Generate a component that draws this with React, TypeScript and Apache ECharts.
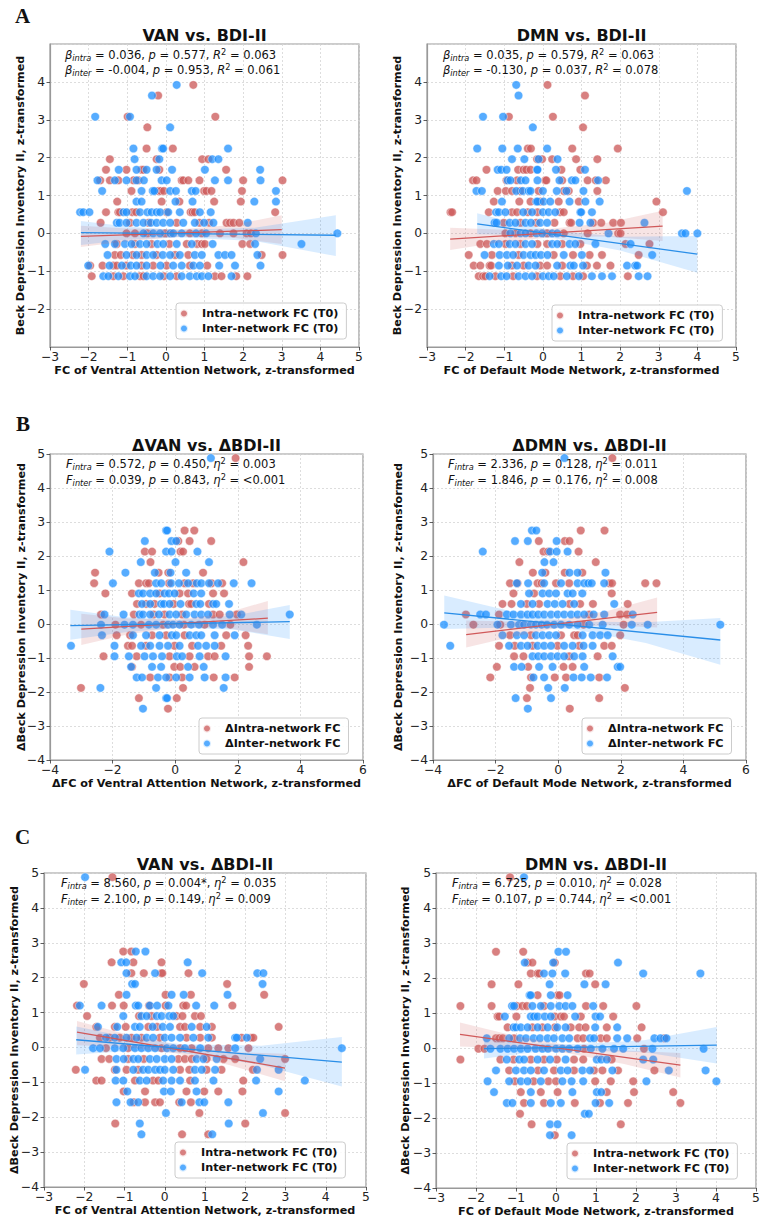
import React, { useEffect, useRef } from "react";
import * as echarts from "echarts";

type Row = [number, number[]];
type Band = [number, number, number][];
type Fit = [number, number][];

// ---------- A: baseline FC vs BDI-II (z) ----------
const vanBdiIntra: Row[] = [
  [3.92, [0.71]],
  [3.64, [-0.2]],
  [3.08, [-0.99, 1.28]],
  [2.8, [-0.48]],
  [2.24, [-0.5, 0.18]],
  [1.96, [-1.45, -0.24, 0.94, 1.1]],
  [1.68, [-1.55, -1.02, -0.63, -0.58, -0.17, 1.56]],
  [1.4, [-1.7, -1.45, -1.23, -0.84, -0.71, 0.41, 0.45, 0.58, 0.87, 2.0, 3.02]],
  [1.12, [-0.89, -0.19, -0.13, -0.05, 0.99, 1.05, 1.18, 1.97]],
  [0.84, [-1.26, -0.11, 0.35, 1.25, 1.94]],
  [0.56, [-1.55, -1.23, -1.19, -0.87, -0.77, 0.02, 0.64, 0.69, 0.75, 2.83]],
  [0.28, [-1.69, -0.93, -0.45, 0.28, 0.87, 1.12, 1.57, 1.66, 1.75, 1.9]],
  [0, [-1.02, -0.8, -0.48, -0.02, 0.62, 0.93, 1.4, 1.75, 2.09, 2.2]],
  [-0.28, [-1.27, -0.8, -0.37, 0.09, 0.54, 0.81, 0.93, 1.01, 1.98, 2.18]],
  [-0.57, [-1.32, -1.17, -0.86, -0.63, -0.24, 0.24, 0.58, 2.48, 3.02]],
  [-0.85, [-1.96, -1.64, -1.36, -1.27, -1.03, -0.63, -0.33, 0.02, 0.62, 1.07]],
  [-1.13, [-1.92, -1.36, -1.1, -0.67, -0.58, -0.05, 0.28, 1.27, 1.44, 1.82, 2.11]],
];
const vanBdiInter: Row[] = [
  [3.92, [0.28]],
  [3.64, [-0.36]],
  [3.08, [-1.83, -0.93]],
  [2.8, [0.11]],
  [2.24, [-0.84, -0.1, -0.07, 1.61]],
  [1.96, [-0.81, -0.17, 1.2, 1.36]],
  [1.68, [-1.22, -0.76, -0.5, -0.24, 0.16, 1.01, 2.44]],
  [1.4, [-1.77, -1.32, -1.02, -0.76, -0.57, -0.11, 0.02, 1.27, 1.61, 2.45]],
  [1.12, [-1.65, -0.63, -0.34, -0.3, 0.11, 0.26, 0.67, 0.77, 2.85]],
  [0.84, [-0.76, -0.63, 0.25, 0.69, 2.29, 2.85]],
  [0.56, [-2.22, -2.14, -1.98, -1.1, -1.02, -0.67, -0.48, -0.37, -0.24, -0.15, 0.06, 0.36, 0.88, 1.16]],
  [0.28, [-1.27, -1.2, -1.02, -0.76, -0.58, -0.39, -0.24, -0.07, 0.11, 0.45, 0.75, 0.99, 1.23, 2.12]],
  [0, [-0.58, -0.33, -0.15, 0.12, 0.19, 0.41, 0.78, 1.04, 2.33, 4.44]],
  [-0.28, [-1.57, -1.32, -1.06, -0.89, -0.67, -0.5, -0.22, -0.07, 0.28, 0.67, 1.21, 2.31, 3.51]],
  [-0.57, [-1.51, -1.02, -0.76, -0.5, -0.33, -0.08, 0.11, 0.36, 0.75, 0.93, 1.36, 1.53, 1.7, 2.37]],
  [-0.85, [-2.01, -1.46, -1.14, -0.91, -0.76, -0.5, -0.14, 0.19, 0.41, 0.71, 0.88, 1.38, 1.79, 2.45]],
  [-1.13, [-1.62, -1.49, -1.23, -0.93, -0.8, -0.5, -0.33, -0.15, 0.11, 0.41, 0.62, 0.8, 0.93, 1.1, 1.7]],
];
const vanBdiIntraFit: Fit = [[-2.2, -0.08], [3.0, 0.1]];
const vanBdiInterFit: Fit = [[-2.2, 0.02], [4.4, -0.05]];
const vanBdiIntraBand: Band = [[-2.2, -0.36, 0.2], [-1.0, -0.21, 0.13], [0.4, -0.09, 0.11], [1.7, -0.11, 0.22], [3.0, -0.28, 0.48]];
const vanBdiInterBand: Band = [[-2.2, -0.31, 0.33], [-1.0, -0.17, 0.18], [0.3, -0.1, 0.09], [2.3, -0.2, 0.15], [4.4, -0.6, 0.48]];

const dmnBdiIntra: Row[] = [
  [3.92, [0.12]],
  [3.64, [1.09]],
  [3.08, [-0.88, 0.26]],
  [2.8, [1.04]],
  [2.24, [-0.39, -0.31, 0.76, 1.94]],
  [1.96, [-0.15, -0.02, 0.24, 0.86, 1.41]],
  [1.68, [-1.46, -0.64, -0.5, -0.43, -0.32, 0.48, 0.97]],
  [1.4, [-1.81, -1.72, -0.94, -0.67, 0.06, 0.09, 0.5, 1.16, 1.37, 1.63]],
  [1.12, [-1.17, -0.96, -0.8, -0.58, -0.11, 0.54, 0.67, 1.41]],
  [0.84, [-1.27, -0.61, -0.32, -0.07, 0.41, 0.93, 2.94]],
  [0.56, [-2.39, -2.35, -1.4, -0.8, -0.67, -0.39, -0.14, 0.45, 0.54, 3.11]],
  [0.28, [-1.01, -0.58, -0.17, 0.3, 0.69, 0.73, 1.3, 1.51, 1.82, 2.02]],
  [0, [-0.97, -0.71, -0.32, 0.11, 0.54, 1.16, 1.95, 2.01]],
  [-0.28, [-1.62, -1.45, -0.97, -0.58, -0.14, 0.11, 0.5, 0.97, 2.14, 2.76]],
  [-0.57, [-1.92, -1.32, -0.63, 0.28, 0.78, 1.21, 1.53, 2.48]],
  [-0.85, [-1.79, -1.62, -1.38, -1.34, -0.8, -0.5, -0.07, 0.11, 0.5, 1.14, 1.4, 1.75]],
  [-1.13, [-1.66, -1.55, -1.49, -1.23, -0.77, -0.15, 0.45, 0.78, 1.04, 2.2]],
];
const dmnBdiInter: Row[] = [
  [3.92, [-0.69]],
  [3.64, [-0.63]],
  [3.08, [-1.55, -1.03]],
  [2.8, [-0.26]],
  [2.24, [-1.7, -1.05, -0.65, 0.11]],
  [1.96, [-0.8, -0.48, -0.11, 0.38]],
  [1.68, [-1.17, -1.08, -0.94, -0.15, -0.14, 0.34, 1.09]],
  [1.4, [-0.91, -0.84, -0.57, -0.45, -0.14, 0.43, 0.75, 0.84, 1.43]],
  [1.12, [-1.72, -1.58, -0.69, -0.52, -0.37, -0.32, 0.0, 0.36, 0.61, 1.05, 3.73]],
  [0.84, [-1.06, -0.17, -0.14, 0.02, 0.19, 0.69, 1.1, 1.47]],
  [0.56, [-1.21, -1.14, -0.97, -0.51, -0.28, 0.0, 0.15, 0.32, 0.97, 0.99, 1.27]],
  [0.28, [-1.25, -1.2, -0.86, -0.71, -0.45, -0.31, -0.07, 0.11, 0.95, 1.23, 2.63]],
  [0, [-0.84, -0.58, -0.45, -0.17, -0.02, 0.24, 0.37, 1.7, 3.6, 3.69, 4.0]],
  [-0.28, [-1.27, -1.14, -0.86, -0.71, -0.45, -0.28, 0.24, 0.37, 0.69, 0.84, 1.36, 2.27]],
  [-0.57, [-1.51, -1.12, -0.93, -0.77, -0.5, -0.32, -0.19, -0.05, 0.12, 0.54, 1.01, 2.83]],
  [-0.85, [-1.14, -0.91, -0.67, -0.37, -0.19, 0.37, 0.71, 0.8, 1.04, 2.18, 2.39, 2.44]],
  [-1.13, [-1.38, -1.08, -0.94, -0.63, -0.45, -0.28, 0.0, 0.15, 0.28, 0.62, 0.93, 1.27, 1.53, 1.79, 2.48, 2.71]],
];
const dmnBdiIntraFit: Fit = [[-2.4, -0.15], [3.1, 0.19]];
const dmnBdiInterFit: Fit = [[-1.7, 0.25], [4.0, -0.55]];
const dmnBdiIntraBand: Band = [[-2.4, -0.44, 0.15], [-1.2, -0.25, 0.1], [0.2, -0.1, 0.12], [1.6, -0.08, 0.27], [3.1, -0.2, 0.6]];
const dmnBdiInterBand: Band = [[-1.7, -0.02, 0.53], [-0.7, -0.04, 0.27], [0.3, -0.13, 0.07], [2.0, -0.45, -0.09], [4.0, -1.04, -0.07]];

// ---------- B: change in FC vs change in BDI-II ----------
const dVanDBdiIntra: Row[] = [
  [4.88, [1.93]],
  [2.75, [0.3, 0.61]],
  [2.44, [0.1, 0.46, 1.15]],
  [2.13, [-0.97, -0.74, 0.17, 0.25]],
  [1.82, [-0.79, 2.18]],
  [1.51, [-2.56, -0.53, -0.22, 0.89]],
  [1.2, [-2.59, -1.16, -0.93, -0.84, -0.2, 0.3, 0.57, 1.16, 1.5]],
  [0.9, [-2.23, -1.38, -0.5, 0.14, 0.41, 1.21, 1.56]],
  [0.59, [-1.22, -0.93, -0.66, -0.05, 0.44, 0.51, 1.08]],
  [0.28, [-2.37, -1.32, -0.69, -0.34, 0.22, 1.21, 1.42, 1.97]],
  [-0.02, [-1.91, -1.09, -0.39, 0.28, 0.94, 1.76]],
  [-0.33, [-1.87, -1.44, -0.74, -0.29, 0.3, 1.63, 2.25]],
  [-0.64, [-1.51, -1.38, -0.93, -0.02, 0.54, 1.47, 2.33]],
  [-0.95, [-2.29, -1.23, -0.18, 0.46, 1.05, 1.26, 2.36, 2.93]],
  [-1.26, [-1.38, -0.03, 0.16, 0.62, 2.36]],
  [-1.57, [-0.8, -0.18, 0.22, 1.23, 1.9]],
  [-1.88, [-3.01, 0.25]],
  [-2.18, [-1.16, 0.05]],
  [-2.49, [-0.23]],
];
const dVanDBdiInter: Row[] = [
  [4.88, [1.14]],
  [2.75, [-0.29, -0.26]],
  [2.44, [-0.97, -0.12, 0.03]],
  [2.13, [-2.1, -0.29, -0.12, 0.71]],
  [1.82, [-1.1, 0.01, 1.08]],
  [1.51, [-1.59, -0.65, -0.15, 0.35]],
  [1.2, [-1.99, -0.61, -0.45, -0.13, 0.12, 0.41, 0.69, 0.83, 1.08, 1.37, 1.87, 2.44]],
  [0.9, [-1.16, -1.03, -0.8, -0.61, -0.34, -0.2, -0.02, 0.59, 0.83]],
  [0.59, [-1.06, -0.8, -0.45, -0.36, -0.18, 0.17, 0.67, 0.8, 1.21, 1.31, 1.72]],
  [0.28, [-2.26, -1.65, -1.14, -1.03, -0.8, -0.52, -0.18, 0.03, 0.35, 0.62, 0.83, 1.05, 1.74, 2.11, 3.66]],
  [-0.02, [-2.37, -1.62, -1.35, -0.84, -0.61, -0.23, -0.07, 0.14, 0.51, 0.76, 1.21, 1.5, 2.61]],
  [-0.33, [-2.34, -1.35, -0.93, -0.5, -0.11, 0.03, 0.46, 0.67, 0.83, 1.26, 1.9]],
  [-0.64, [-3.33, -1.94, -1.09, -0.8, -0.5, -0.23, 0.14, 0.73, 0.99, 1.26]],
  [-0.95, [-1.94, -1.48, -0.98, -0.71, -0.42, 0.05, 0.22, 0.78, 1.61]],
  [-1.26, [-1.41, -0.74, -0.45, 0.41, 0.91]],
  [-1.57, [-1.23, -1.06, -0.55, -0.29, 0.03, 0.46, 0.94, 1.61]],
  [-1.88, [-2.39, -0.61, 1.55]],
  [-2.18, [-0.29, -0.26]],
  [-2.49, [-1.03]],
];
const dVanDBdiIntraFit: Fit = [[-3.0, -0.15], [2.96, 0.17]];
const dVanDBdiInterFit: Fit = [[-3.35, -0.05], [3.66, 0.07]];
const dVanDBdiIntraBand: Band = [[-3.0, -0.62, 0.3], [-1.5, -0.3, 0.16], [0.0, -0.11, 0.13], [1.5, -0.1, 0.29], [2.96, -0.3, 0.68]];
const dVanDBdiInterBand: Band = [[-3.35, -0.46, 0.42], [-1.6, -0.24, 0.2], [0.1, -0.1, 0.12], [1.9, -0.17, 0.25], [3.66, -0.44, 0.56]];

const dDmnDBdiIntra: Row[] = [
  [4.88, [1.73]],
  [2.75, [0.72, 1.48]],
  [2.44, [-0.62, 0.21, 0.36]],
  [2.13, [-0.47, -0.32, 0.65]],
  [1.82, [-1.24, 1.2]],
  [1.51, [-0.81, -0.41, 0.21, 0.77]],
  [1.2, [-1.54, -1.3, -0.66, -0.53, -0.07, 0.35, 1.64, 1.72, 2.78, 3.14]],
  [0.9, [-1.43, -0.77, 1.71]],
  [0.59, [-1.78, -1.49, -1.0, -0.61, 0.36, 0.7, 1.11, 2.22]],
  [0.28, [-2.95, -1.89, 0.99, 1.98, 2.2]],
  [-0.02, [-2.71, -1.85, 0.81, 2.09]],
  [-0.33, [-1.54, -0.87, 0.09, 0.51, 0.62, 1.98]],
  [-0.64, [-1.89, -1.39, -0.82, -0.02, 0.67, 1.47, 1.71]],
  [-0.95, [-1.41, -1.11, 0.35, 1.26]],
  [-1.26, [-1.96, -0.96, 0.17, 0.46]],
  [-1.57, [-2.17, -0.87, -0.11, 0.25, 1.31]],
  [-1.88, [-0.9, 2.13]],
  [-2.18, [-1.0, 1.31]],
  [-2.49, [0.37]],
];
const dDmnDBdiInter: Row[] = [
  [4.88, [0.2]],
  [2.75, [-0.84, -0.7]],
  [2.44, [-1.38, -0.97, -0.05]],
  [2.13, [-2.41, -0.26, -0.05, 0.3]],
  [1.82, [-0.44, -0.15]],
  [1.51, [-0.51, 0.36, 0.62, 1.51]],
  [1.2, [-1.32, -0.96, -0.45, 0.09, 0.62, 0.83, 0.96, 1.07, 1.47]],
  [0.9, [-0.93, -0.5, -0.29, -0.07, 0.3, 0.46, 0.77]],
  [0.59, [-1.19, -0.82, -0.34, -0.11, 0.14, 0.51, 1.79]],
  [0.28, [-2.49, -2.31, -1.64, -1.43, -1.19, -0.98, -0.82, -0.64, -0.45, -0.23, -0.02, 0.19, 0.41, 0.62, 0.83, 1.13, 1.47, 2.38]],
  [-0.02, [-3.65, -1.94, -1.51, -1.25, -1.09, -0.87, -0.71, -0.53, -0.36, -0.13, 0.09, 0.35, 0.62, 0.99, 1.42, 2.35, 2.86, 5.18]],
  [-0.33, [-1.78, -1.32, -1.09, -0.71, -0.5, -0.29, -0.07, 0.78, 1.1, 1.34, 1.58]],
  [-0.64, [-3.45, -1.57, -1.19, -0.98, -0.66, -0.45, -0.23, 0.19, 0.46, 0.81, 1.1]],
  [-0.95, [-0.82, -0.64, -0.45, -0.23, -0.02, 0.19, 0.51, 0.78, 1.74]],
  [-1.26, [-1.41, -1.17, -0.61, -0.18, 0.83, 1.9, 1.98]],
  [-1.57, [-0.79, -0.45, 0.49, 0.75, 1.04, 1.56]],
  [-1.88, [-0.32, 0.21]],
  [-2.18, [-1.36, -0.23]],
  [-2.49, [-0.97]],
];
const dDmnDBdiIntraFit: Fit = [[-2.94, -0.31], [3.16, 0.34]];
const dDmnDBdiInterFit: Fit = [[-3.64, 0.33], [5.18, -0.47]];
const dDmnDBdiIntraBand: Band = [[-2.94, -0.69, 0.1], [-1.5, -0.38, 0.07], [0.0, -0.11, 0.12], [1.6, -0.04, 0.39], [3.16, -0.1, 0.78]];
const dDmnDBdiInterBand: Band = [[-3.64, -0.15, 0.84], [-1.5, -0.1, 0.37], [0.4, -0.14, 0.07], [2.8, -0.56, 0.05], [5.18, -1.2, 0.18]];

// ---------- C: baseline FC vs change in BDI-II ----------
const vanDBdiIntra: Row[] = [
  [4.88, [-1.3]],
  [2.75, [-1.03, -0.83]],
  [2.44, [-1.32, -0.78, -0.08]],
  [2.13, [-0.83, -0.52, -0.09, -0.06, 0.59]],
  [1.82, [-2.01, 1.55]],
  [1.51, [-1.14, 0.02, 0.65, 2.47]],
  [1.2, [-2.18, -1.31, -1.02, -0.39, 0.02, 0.46, 0.53, 1.68]],
  [0.9, [-1.93, -0.64, -0.33, 0.29, 0.44, 0.75, 0.9]],
  [0.59, [-1.7, -1.24, -0.97, -0.41, -0.19, 0.38, 0.5, 0.88, 1.17, 2.83]],
  [0.28, [-1.61, -1.37, -1.12, -0.83, -0.58, -0.12, 0.54, 0.88, 1.17, 1.91, 2.14, 2.2]],
  [-0.02, [-1.46, -0.91, -0.08, 0.38, 0.67, 1.08, 1.33, 1.58, 2.08]],
  [-0.33, [-1.57, -1.38, -0.91, -0.52, 0.34, 0.5, 0.67, 1.04, 1.46, 1.75, 2.99]],
  [-0.64, [-2.21, -1.24, -0.95, -0.66, 0.38, 0.61, 1.04, 1.41, 2.19]],
  [-0.95, [-1.7, -1.57, -0.74, -0.29, -0.16, 0.63, 1.95]],
  [-1.26, [-1.02, -0.49, 0.54, 0.98, 1.33, 1.93]],
  [-1.57, [-0.77, -0.49, -0.24, -0.12, 0.36, 0.65]],
  [-1.88, [0.86, 2.99]],
  [-2.18, [-1.23, 2.0]],
  [-2.49, [0.43, 1.08]],
];
const vanDBdiInter: Row[] = [
  [4.88, [-1.98]],
  [2.75, [-0.72, -0.48]],
  [2.44, [-1.08, -0.96, 0.57]],
  [2.13, [-0.95, -0.24, 0.93, 2.3, 2.45]],
  [1.82, [-0.81, -0.74, 2.43]],
  [1.51, [-0.95, 0.17, 0.47, 1.56]],
  [1.2, [-2.11, -1.57, -0.72, -0.66, -0.37, -0.19, 0.09, 0.78, 1.23]],
  [0.9, [-1.03, -0.58, -0.45, -0.2, -0.08, 0.11, 0.21]],
  [0.59, [-1.66, -1.18, -0.74, -0.62, -0.3, -0.05, 0.13, 0.67, 1.04]],
  [0.28, [-1.46, -1.24, -0.95, -0.7, -0.45, -0.29, 0.0, 0.17, 0.38, 0.71, 1.08, 1.75, 1.79, 2.04]],
  [-0.02, [-1.78, -1.61, -1.24, -1.03, -0.74, -0.58, -0.41, -0.24, 0.05, 0.21, 0.5, 0.88, 1.75, 4.4]],
  [-0.33, [-1.2, -1.02, -0.78, -0.66, -0.37, -0.2, 0.0, 0.17, 0.79, 0.96, 1.29, 2.37]],
  [-0.64, [-1.98, -1.2, -0.78, -0.54, -0.41, -0.24, -0.12, 0.0, 0.21, 0.75, 0.92, 1.25, 2.29, 2.83]],
  [-0.95, [-1.22, -1.03, -0.62, -0.45, -0.04, 0.17, 0.38, 0.75, 1.21, 2.27, 3.48]],
  [-1.26, [-0.93, -0.02, 0.15, 0.79, 2.83]],
  [-1.57, [-1.2, -0.85, -0.66, 0.42, 0.86, 0.98, 1.58]],
  [-1.88, [0.03, 2.44]],
  [-2.18, [-0.62, 1.59]],
  [-2.49, [-0.58, 1.18]],
];
const vanDBdiIntraFit: Fit = [[-2.18, 0.44], [2.99, -0.59]];
const vanDBdiInterFit: Fit = [[-2.2, 0.22], [4.4, -0.42]];
const vanDBdiIntraBand: Band = [[-2.18, 0.06, 0.76], [-1.0, 0.02, 0.39], [0.3, -0.17, 0.07], [1.6, -0.5, -0.13], [2.99, -0.97, -0.18]];
const vanDBdiInterBand: Band = [[-2.2, -0.2, 0.6], [-0.9, -0.1, 0.29], [0.4, -0.15, 0.09], [2.4, -0.5, 0.05], [4.4, -1.12, 0.3]];

const dmnDBdiIntra: Row[] = [
  [4.88, [-1.15]],
  [2.75, [-1.5, -0.82]],
  [2.44, [-0.71, -0.59, -0.03]],
  [2.13, [-0.63, -0.46, -0.42, 0.75, 0.84]],
  [1.82, [-1.61, -0.94, 0.98]],
  [1.51, [-0.46, 0.04, 0.09]],
  [1.2, [-2.39, -1.61, -0.98, -0.84, -0.73, -0.3, 0.75, 1.18, 2.01]],
  [0.9, [-1.46, -1.42, -0.99, -0.03, 0.12, 0.2, 0.62, 1.43]],
  [0.59, [-1.21, -0.59, -0.34, -0.03, 0.37, 0.58, 0.74, 1.27, 2.14]],
  [0.28, [-1.5, -1.42, -1.33, -1.05, 0.54, 0.68, 1.12, 1.27, 2.03, 2.71]],
  [-0.02, [-1.94, -1.79, 0.7, 2.2]],
  [-0.33, [-2.39, -1.39, -1.06, -0.63, -0.3, 0.02, 0.45, 0.68, 1.39]],
  [-0.64, [-1.17, -0.45, -0.05, 0.45, 0.95, 1.16, 1.55, 2.46]],
  [-0.95, [-1.03, -0.56, -0.19, 0.0, 0.98, 1.37, 1.93]],
  [-1.26, [-0.88, -0.38, 0.04, 1.27, 1.95, 2.93]],
  [-1.57, [-0.8, -0.3, 0.47, 1.1, 1.8, 3.11]],
  [-1.88, [-0.9]],
  [-2.18, [-0.61, 1.62]],
  [-2.49, [-0.03]],
];
const dmnDBdiInter: Row[] = [
  [4.88, [-0.8]],
  [2.75, [0.06, 0.25]],
  [2.44, [-0.78, -0.07, 1.55]],
  [2.13, [-0.3, -0.09, 0.23, 2.18, 3.61]],
  [1.82, [-0.16, 0.71, 1.24]],
  [1.51, [-0.66, -0.63, -0.13, 0.29]],
  [1.2, [-1.1, -1.05, -0.59, -0.38, -0.13, 0.08, 0.24, 0.41, 0.93]],
  [0.9, [-1.28, -0.63, -0.55, -0.46, -0.28, -0.13, 0.48, 0.99, 1.1]],
  [0.59, [-1.06, -1.0, -0.88, -0.71, -0.46, -0.21, 0.03, 0.24, 0.98, 1.53]],
  [0.28, [-1.73, -1.17, -0.9, -0.75, -0.56, -0.4, -0.21, -0.05, 0.16, 0.33, 0.85, 0.95, 1.53, 1.78, 2.46, 2.61, 2.76]],
  [-0.02, [-1.64, -1.39, -1.21, -1.05, -0.88, -0.71, -0.51, -0.34, -0.2, 0.0, 0.16, 0.33, 0.54, 0.87, 1.16, 1.45, 1.68, 2.41, 3.69]],
  [-0.33, [-1.23, -0.92, -0.8, -0.46, -0.15, 0.24, 1.02, 1.13, 1.27, 2.18, 2.43]],
  [-0.64, [-1.5, -1.0, -0.8, -0.63, -0.3, 0.12, 0.29, 0.66, 0.85, 1.41, 2.82, 3.74]],
  [-0.95, [-1.71, -1.17, -0.88, -0.71, -0.38, 0.16, 0.39, 0.68, 2.26, 4.01]],
  [-1.26, [-1.55, -0.63, 0.41, 1.02, 1.13]],
  [-1.57, [-1.23, -1.09, -0.63, -0.13, 0.12, 0.99, 1.33]],
  [-1.88, [0.72, 0.82]],
  [-2.18, [-0.15, 0.04]],
  [-2.49, [-0.15, 0.39]],
];
const dmnDBdiIntraFit: Fit = [[-2.4, 0.39], [3.11, -0.49]];
const dmnDBdiInterFit: Fit = [[-1.8, -0.02], [4.02, 0.08]];
const dmnDBdiIntraBand: Band = [[-2.4, 0.04, 0.73], [-1.0, -0.01, 0.34], [0.3, -0.15, 0.07], [1.7, -0.46, -0.07], [3.11, -0.84, -0.14]];
const dmnDBdiInterBand: Band = [[-1.8, -0.3, 0.27], [-0.6, -0.13, 0.13], [0.5, -0.07, 0.11], [2.2, -0.12, 0.22], [4.02, -0.44, 0.6]];

// ---------- text ----------
const legendT0 = ["Intra-network FC (T0)", "Inter-network FC (T0)"];
const legendDelta = ["\u0394Intra-network FC", "\u0394Inter-network FC"];
const yNameBdi = "Beck Depression Inventory II, z-transformed";
const yNameDBdi = "\u0394Beck Depression Inventory II, z-transformed";

const FONT = "DejaVu Sans";
const RED = "#cd5c5c";
const BLUE = "#1e90ff";

const fmt = (v: number) => (v < 0 ? "\u2212" + Math.abs(v) : String(v));
const toPoints = (rows: Row[]) => rows.flatMap(([y, xs]) => xs.map((x) => [x, y]));

interface Panel {
  grid: { left: number; top: number; width: number; height: number };
  x: [number, number, number];
  y: [number, number, number];
  hideYEnds: boolean;
  title: string;
  xName: string;
  yName: string;
  yNameX: number;
  stats: [string, string];
  statX: number;
  statY: [number, number];
  legend: { left: number; top: number; names: string[] };
  intra: Row[];
  inter: Row[];
  intraFit: Fit;
  interFit: Fit;
  intraBand: Band;
  interBand: Band;
}

const panels: Panel[] = [
  {
    grid: { left: 50, top: 44, width: 309, height: 303 },
    x: [-3, 5, 1], y: [-3, 5, 1], hideYEnds: true,
    title: "VAN vs. BDI-II",
    xName: "FC of Ventral Attention Network, z-transformed",
    yName: yNameBdi, yNameX: 20,
    stats: [
      "{it|\u03b2}{sub|intra} = 0.036, {it|p} = 0.577, {it|R}{sup|2} = 0.063",
      "{it|\u03b2}{sub|inter} = -0.004, {it|p} = 0.953, {it|R}{sup|2} = 0.061",
    ],
    statX: 65, statY: [55, 70],
    legend: { left: 176, top: 303, names: legendT0 },
    intra: vanBdiIntra, inter: vanBdiInter,
    intraFit: vanBdiIntraFit, interFit: vanBdiInterFit,
    intraBand: vanBdiIntraBand, interBand: vanBdiInterBand,
  },
  {
    grid: { left: 427, top: 44, width: 309, height: 303 },
    x: [-3, 5, 1], y: [-3, 5, 1], hideYEnds: true,
    title: "DMN vs. BDI-II",
    xName: "FC of Default Mode Network, z-transformed",
    yName: yNameBdi, yNameX: 397,
    stats: [
      "{it|\u03b2}{sub|intra} = 0.035, {it|p} = 0.579, {it|R}{sup|2} = 0.063",
      "{it|\u03b2}{sub|inter} = -0.130, {it|p} = 0.037, {it|R}{sup|2} = 0.078",
    ],
    statX: 443, statY: [55, 70],
    legend: { left: 552, top: 305, names: legendT0 },
    intra: dmnBdiIntra, inter: dmnBdiInter,
    intraFit: dmnBdiIntraFit, interFit: dmnBdiInterFit,
    intraBand: dmnBdiIntraBand, interBand: dmnBdiInterBand,
  },
  {
    grid: { left: 50, top: 454, width: 313, height: 306 },
    x: [-4, 6, 2], y: [-4, 5, 1], hideYEnds: false,
    title: "\u0394VAN vs. \u0394BDI-II",
    xName: "\u0394FC of Ventral Attention Network, z-transformed",
    yName: yNameDBdi, yNameX: 21,
    stats: [
      "{it|F}{sub|intra} = 0.572, {it|p} = 0.450, {it|\u03b7}{sup|2} = 0.003",
      "{it|F}{sub|inter} = 0.039, {it|p} = 0.843, {it|\u03b7}{sup|2} = <0.001",
    ],
    statX: 66, statY: [464, 480],
    legend: { left: 199, top: 718, names: legendDelta },
    intra: dVanDBdiIntra, inter: dVanDBdiInter,
    intraFit: dVanDBdiIntraFit, interFit: dVanDBdiInterFit,
    intraBand: dVanDBdiIntraBand, interBand: dVanDBdiInterBand,
  },
  {
    grid: { left: 433, top: 454, width: 313, height: 306 },
    x: [-4, 6, 2], y: [-4, 5, 1], hideYEnds: false,
    title: "\u0394DMN vs. \u0394BDI-II",
    xName: "\u0394FC of Default Mode Network, z-transformed",
    yName: yNameDBdi, yNameX: 398,
    stats: [
      "{it|F}{sub|intra} = 2.336, {it|p} = 0.128, {it|\u03b7}{sup|2} = 0.011",
      "{it|F}{sub|inter} = 1.846, {it|p} = 0.176, {it|\u03b7}{sup|2} = 0.008",
    ],
    statX: 448, statY: [464, 480],
    legend: { left: 582, top: 718, names: legendDelta },
    intra: dDmnDBdiIntra, inter: dDmnDBdiInter,
    intraFit: dDmnDBdiIntraFit, interFit: dDmnDBdiInterFit,
    intraBand: dDmnDBdiIntraBand, interBand: dDmnDBdiInterBand,
  },
  {
    grid: { left: 44, top: 873, width: 322, height: 314 },
    x: [-3, 5, 1], y: [-4, 5, 1], hideYEnds: false,
    title: "VAN vs. \u0394BDI-II",
    xName: "FC of Ventral Attention Network, z-transformed",
    yName: yNameDBdi, yNameX: 14,
    stats: [
      "{it|F}{sub|intra} = 8.560, {it|p} = 0.004*, {it|\u03b7}{sup|2} = 0.035",
      "{it|F}{sub|inter} = 2.100, {it|p} = 0.149, {it|\u03b7}{sup|2} = 0.009",
    ],
    statX: 61, statY: [883, 899],
    legend: { left: 175, top: 1142, names: legendT0 },
    intra: vanDBdiIntra, inter: vanDBdiInter,
    intraFit: vanDBdiIntraFit, interFit: vanDBdiInterFit,
    intraBand: vanDBdiIntraBand, interBand: vanDBdiInterBand,
  },
  {
    grid: { left: 436, top: 873, width: 320, height: 315 },
    x: [-3, 5, 1], y: [-4, 5, 1], hideYEnds: false,
    title: "DMN vs. \u0394BDI-II",
    xName: "FC of Default Mode Network, z-transformed",
    yName: yNameDBdi, yNameX: 405,
    stats: [
      "{it|F}{sub|intra} = 6.725, {it|p} = 0.010, {it|\u03b7}{sup|2} = 0.028",
      "{it|F}{sub|inter} = 0.107, {it|p} = 0.744, {it|\u03b7}{sup|2} = <0.001",
    ],
    statX: 452, statY: [883, 899],
    legend: { left: 567, top: 1143, names: legendT0 },
    intra: dmnDBdiIntra, inter: dmnDBdiInter,
    intraFit: dmnDBdiIntraFit, interFit: dmnDBdiInterFit,
    intraBand: dmnDBdiIntraBand, interBand: dmnDBdiInterBand,
  },
];

const panelLetters: [string, number, number][] = [
  ["A", 15, 16],
  ["B", 16, 424],
  ["C", 15, 837],
];

const richStats = {
  it: { fontStyle: "italic", fontSize: 11.5, fontFamily: FONT, color: "#111" },
  sub: { fontStyle: "italic", fontSize: 8.2, fontFamily: FONT, color: "#111", verticalAlign: "bottom", lineHeight: 7 },
  sup: { fontSize: 8.2, fontFamily: FONT, color: "#111", verticalAlign: "top", lineHeight: 9 },
};

function bandSeries(band: Band, color: string, i: number) {
  return {
    type: "custom",
    xAxisIndex: i,
    yAxisIndex: i,
    silent: true,
    z: 4,
    data: [[band[0][0], band[0][1]]],
    renderItem: (params: any, api: any) => {
      if (params.dataIndex !== 0) return null;
      const upper = band.map(([x, , hi]) => api.coord([x, hi]));
      const lower = band
        .slice()
        .reverse()
        .map(([x, lo]) => api.coord([x, lo]));
      return {
        type: "polygon",
        shape: { points: [...upper, ...lower] },
        style: { fill: color, opacity: 0.17 },
      };
    },
  };
}

function lineSeries(fit: Fit, color: string, i: number) {
  return {
    type: "line",
    xAxisIndex: i,
    yAxisIndex: i,
    data: fit,
    symbol: "none",
    silent: true,
    z: 5,
    lineStyle: { color, width: 1.3 },
  };
}

function buildOption() {
  const axisLabel = { fontFamily: FONT, fontSize: 12.3, color: "#222", formatter: fmt };
  const splitLine = { show: true, lineStyle: { color: "#d4d4d4", type: [2, 2], width: 0.8 } };
  const axisLine = { show: true, onZero: false, lineStyle: { color: "#999", width: 1.2 } };
  const axisTick = { show: true, length: 3.5, lineStyle: { color: "#333", width: 0.8 } };

  const series: any[] = [];
  const graphic: any[] = [];

  panels.forEach((p, i) => {
    const g = p.grid;
    series.push({
      type: "scatter",
      name: p.legend.names[0],
      xAxisIndex: i,
      yAxisIndex: i,
      data: toPoints(p.intra),
      symbolSize: 8.5,
      z: 2,
      itemStyle: { color: RED, opacity: 0.78, borderColor: "#fff", borderWidth: 0.6 },
    });
    series.push({
      type: "scatter",
      name: p.legend.names[1],
      xAxisIndex: i,
      yAxisIndex: i,
      data: toPoints(p.inter),
      symbolSize: 8.5,
      z: 3,
      itemStyle: { color: BLUE, opacity: 0.75, borderColor: "#fff", borderWidth: 0.6 },
    });
    series.push(bandSeries(p.intraBand, RED, i));
    series.push(bandSeries(p.interBand, BLUE, i));
    series.push(lineSeries(p.intraFit, "#d0595a", i));
    series.push(lineSeries(p.interFit, "#2a8ee8", i));

    const cx = g.left + g.width / 2;
    const cy = g.top + g.height / 2;
    graphic.push({
      type: "text",
      x: cx,
      y: g.top - 9,
      style: {
        text: p.title,
        fontFamily: FONT,
        fontWeight: "bold",
        fontSize: 16,
        fill: "#111",
        align: "center",
        verticalAlign: "middle",
        textAlign: "center",
        textVerticalAlign: "middle",
      },
    });
    graphic.push({
      type: "text",
      x: cx,
      y: g.top + g.height + 23,
      style: {
        text: p.xName,
        fontFamily: FONT,
        fontWeight: "bold",
        fontSize: 11.2,
        fill: "#111",
        align: "center",
        verticalAlign: "middle",
        textAlign: "center",
        textVerticalAlign: "middle",
      },
    });
    graphic.push({
      type: "text",
      x: p.yNameX,
      y: cy,
      rotation: Math.PI / 2,
      style: {
        text: p.yName,
        fontFamily: FONT,
        fontWeight: "bold",
        fontSize: 11.2,
        fill: "#111",
        align: "center",
        verticalAlign: "middle",
        textAlign: "center",
        textVerticalAlign: "middle",
      },
    });
    p.stats.forEach((s, k) => {
      graphic.push({
        type: "text",
        x: p.statX,
        y: p.statY[k],
        z: 10,
        style: {
          text: s,
          fontFamily: FONT,
          fontSize: 11.5,
          lineHeight: 14,
          fill: "#111",
          align: "left",
          verticalAlign: "middle",
          textAlign: "left",
          textVerticalAlign: "middle",
          rich: richStats,
        },
      });
    });
  });

  panelLetters.forEach(([t, x, y]) => {
    graphic.push({
      type: "text",
      x,
      y,
      style: {
        text: t,
        fontFamily: "Liberation Serif",
        fontWeight: "bold",
        fontSize: 21,
        fill: "#111",
        align: "left",
        verticalAlign: "middle",
        textAlign: "left",
        textVerticalAlign: "middle",
      },
    });
  });

  return {
    animation: false,
    backgroundColor: "#fff",
    textStyle: { fontFamily: FONT },
    grid: panels.map((p) => ({
      ...p.grid,
      show: true,
      borderColor: "#999",
      borderWidth: 1.2,
      backgroundColor: "transparent",
    })),
    xAxis: panels.map((p, i) => ({
      type: "value",
      gridIndex: i,
      min: p.x[0],
      max: p.x[1],
      interval: p.x[2],
      axisLine,
      axisTick,
      axisLabel: { ...axisLabel, margin: 4 },
      splitLine,
    })),
    yAxis: panels.map((p, i) => ({
      type: "value",
      gridIndex: i,
      min: p.y[0],
      max: p.y[1],
      interval: p.y[2],
      axisLine,
      axisTick,
      axisLabel: { ...axisLabel, margin: 5, showMinLabel: !p.hideYEnds, showMaxLabel: !p.hideYEnds },
      splitLine,
    })),
    legend: panels.map((p) => ({
      data: p.legend.names,
      left: p.legend.left,
      top: p.legend.top,
      orient: "vertical",
      icon: "circle",
      itemWidth: 26,
      itemHeight: 8,
      itemGap: 4,
      padding: [5, 8, 5, 3],
      backgroundColor: "rgba(255,255,255,0.85)",
      borderColor: "#cccccc",
      borderWidth: 1,
      borderRadius: 3,
      selectedMode: false,
      textStyle: { fontFamily: FONT, fontWeight: "bold", fontSize: 11.2, color: "#111" },
    })),
    series,
    graphic,
  };
}

export default function App() {
  const ref = useRef<HTMLDivElement>(null);
  useEffect(() => {
    document.body.style.margin = "0";
    if (!ref.current) return;
    const chart = echarts.init(ref.current, undefined, { renderer: "svg" });
    chart.setOption(buildOption() as any);
    return () => chart.dispose();
  }, []);
  return <div ref={ref} style={{ width: 767, height: 1223 }} />;
}
